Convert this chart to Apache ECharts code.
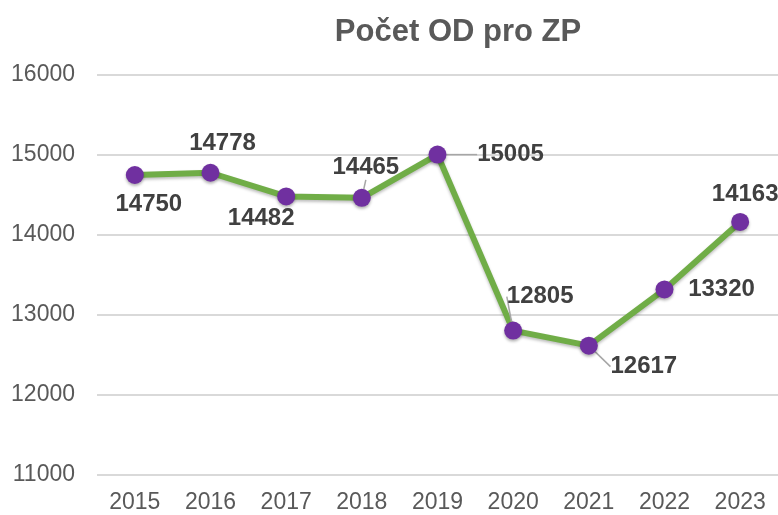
<!DOCTYPE html>
<html>
<head>
<meta charset="utf-8">
<script src="https://cdn.jsdelivr.net/npm/echarts@6/dist/echarts.min.js"></script>
<style>
html,body{margin:0;padding:0;background:#fff;}
#c{width:778px;height:515px;}
</style>
</head>
<body>
<div id="c"></div>
<script>
var years = ['2015','2016','2017','2018','2019','2020','2021','2022','2023'];
var counts = [14750, 14778, 14482, 14465, 15005, 12805, 12617, 13320, 14163];
var titleText = 'Počet OD pro ZP';

// label placement (offset of label centre from point, px) and leader line flags
var labelDx = [14, 12, -25, 4, 73, 27, 55, 57, 5];
var labelDy = [29, -29, 22, -30, 0, -34, 21, 0, -28];
var leader = [false, false, false, true, true, true, true, false, false];

var chart = echarts.init(document.getElementById('c'));
var font = '"Liberation Sans", Arial, sans-serif';
chart.setOption({
  backgroundColor: '#ffffff',
  animation: false,
  title: {
    text: titleText,
    left: 453,
    top: 12,
    textAlign: 'center',
    textStyle: {fontFamily: font, fontSize: 31, fontWeight: 'bold', color: '#595959'}
  },
  grid: {left: 97, right: 0, top: 75, bottom: 40, containLabel: false},
  xAxis: {
    type: 'category',
    data: years,
    boundaryGap: true,
    axisLine: {show: false},
    axisTick: {show: false},
    axisLabel: {fontFamily: font, fontSize: 23, color: '#595959', margin: 16}
  },
  yAxis: {
    type: 'value',
    min: 11000,
    max: 16000,
    interval: 1000,
    axisLine: {show: false},
    axisTick: {show: false},
    axisLabel: {fontFamily: font, fontSize: 23, color: '#595959', margin: 22,
      formatter: function (v) { return String(v); }},
    splitLine: {lineStyle: {color: '#d9d9d9', width: 2}}
  },
  series: [{
    type: 'line',
    data: counts.map(function (v, i) {
      return {value: v, labelLine: {show: leader[i]}};
    }),
    symbol: 'circle',
    symbolSize: 18,
    lineStyle: {color: '#70ad47', width: 6, shadowColor: 'rgba(0,0,0,0.25)', shadowBlur: 3, shadowOffsetY: 2},
    itemStyle: {color: '#7030a0', shadowColor: 'rgba(0,0,0,0.3)', shadowBlur: 3, shadowOffsetY: 2},
    label: {
      show: true,
      position: 'inside',
      fontFamily: font,
      fontSize: 24,
      fontWeight: 'bold',
      color: '#404040'
    },
    labelLine: {show: true, lineStyle: {color: '#a6a6a6', width: 1.5}},
    labelLayout: function (p) {
      return {dx: labelDx[p.dataIndex], dy: labelDy[p.dataIndex]};
    }
  }]
});
</script>
</body>
</html>
